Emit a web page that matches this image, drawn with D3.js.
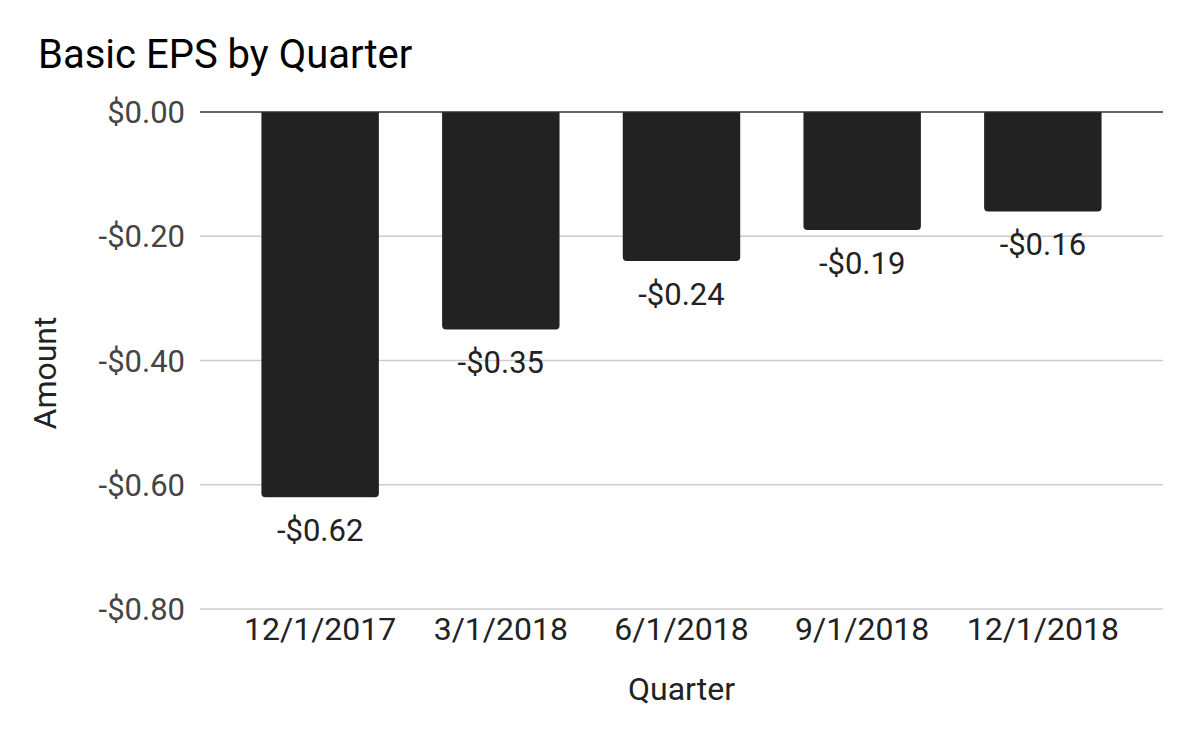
<!DOCTYPE html>
<html>
<head>
<meta charset="utf-8">
<script src="https://cdn.jsdelivr.net/npm/d3@7"></script>
<style>
  body { margin: 0; background: #fff; }
  svg { display: block; font-family: Roboto, "Noto Sans", sans-serif; }
</style>
</head>
<body>
<div id="chart"></div>
<script>
const quarters = ["12/1/2017", "3/1/2018", "6/1/2018", "9/1/2018", "12/1/2018"];
const eps = [-0.62, -0.35, -0.24, -0.19, -0.16];
const yTicks = [0, -0.2, -0.4, -0.6, -0.8];

const width = 1200;
const height = 742;
const margin = { top: 112, right: 37, bottom: 133, left: 200 };

const svg = d3.select("#chart")
    .append("svg")
    .attr("width", width)
    .attr("height", height);

const x = d3.scaleBand()
    .domain(quarters)
    .range([margin.left, width - margin.right])
    .paddingInner(0.35)
    .paddingOuter(0.34);

const y = d3.scaleLinear()
    .domain([0, -0.8])
    .range([margin.top, height - margin.bottom]);

const fmt = v => (v < 0 ? "-$" : "$") + Math.abs(v).toFixed(2);

// gridlines + y labels
svg.append("g")
    .selectAll("line")
    .data(yTicks.filter(t => t !== 0))
    .enter()
    .append("line")
    .attr("x1", margin.left)
    .attr("x2", width - margin.right)
    .attr("y1", d => y(d))
    .attr("y2", d => y(d))
    .attr("stroke", "#cccccc")
    .attr("stroke-width", 1.5);

svg.append("g")
    .selectAll("text")
    .data(yTicks)
    .enter()
    .append("text")
    .attr("x", 185)
    .attr("y", d => y(d))
    .attr("dy", "0.36em")
    .attr("text-anchor", "end")
    .style("font-size", "31px")
    .style("fill", "#444")
    .text(fmt);

// bars with rounded bottom corners
const r = 4;
svg.append("g")
    .selectAll("path")
    .data(eps)
    .enter()
    .append("path")
    .attr("d", (d, i) => {
        const x0 = x(quarters[i]);
        const x1 = x0 + x.bandwidth();
        const y0 = y(0);
        const y1 = y(d);
        return `M${x0},${y0}L${x1},${y0}L${x1},${y1 - r}Q${x1},${y1} ${x1 - r},${y1}` +
            `L${x0 + r},${y1}Q${x0},${y1} ${x0},${y1 - r}Z`;
    })
    .style("fill", "#222222");

// zero line
svg.append("line")
    .attr("x1", margin.left)
    .attr("x2", width - margin.right)
    .attr("y1", y(0))
    .attr("y2", y(0))
    .attr("stroke", "#333")
    .attr("stroke-width", 1.5);

// value labels
svg.append("g")
    .selectAll("text")
    .data(eps)
    .enter()
    .append("text")
    .attr("x", (d, i) => x(quarters[i]) + x.bandwidth() / 2)
    .attr("y", d => y(d) + 44)
    .attr("text-anchor", "middle")
    .style("font-size", "31px")
    .style("fill", "#222")
    .text(fmt);

// x labels
svg.append("g")
    .selectAll("text")
    .data(quarters)
    .enter()
    .append("text")
    .attr("x", d => x(d) + x.bandwidth() / 2)
    .attr("y", 640)
    .attr("text-anchor", "middle")
    .style("font-size", "32px")
    .style("fill", "#222")
    .text(d => d);

// axis titles
svg.append("text")
    .attr("x", (margin.left + width - margin.right) / 2)
    .attr("y", 700)
    .attr("text-anchor", "middle")
    .style("font-size", "32px")
    .style("fill", "#222")
    .text("Quarter");

svg.append("text")
    .attr("transform", "translate(56," + 373 + ") rotate(-90)")
    .attr("text-anchor", "middle")
    .style("font-size", "32px")
    .style("fill", "#222")
    .text("Amount");

// title
svg.append("text")
    .attr("x", 38)
    .attr("y", 68)
    .style("font-size", "40px")
    .style("fill", "#000")
    .text("Basic EPS by Quarter");
</script>
</body>
</html>
